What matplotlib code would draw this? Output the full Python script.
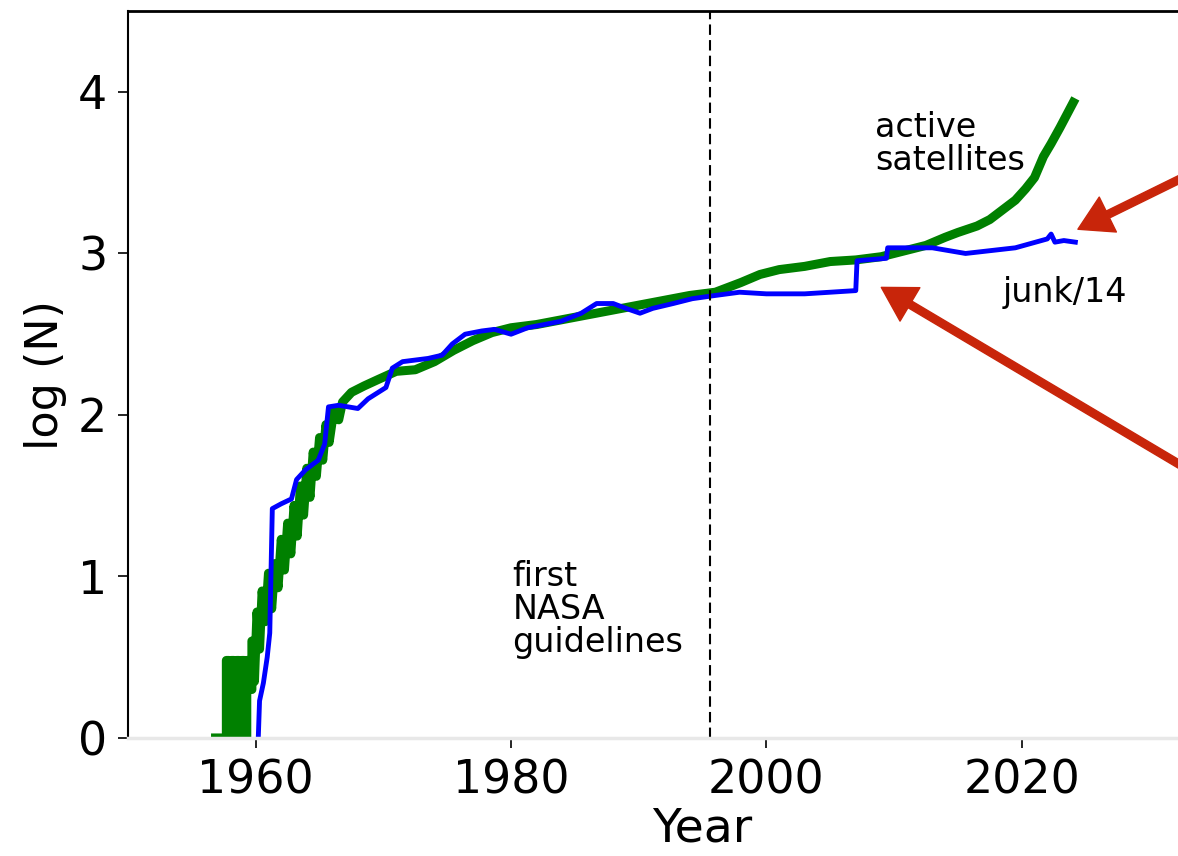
import matplotlib
matplotlib.use("Agg")
import matplotlib.pyplot as plt

# active satellites, log10 of count (early years flicker up and down)
act_year = [1956.5, 1957.7, 1957.7, 1957.9, 1957.9, 1958.1, 1958.1, 1958.3, 1958.3,
            1958.5, 1958.5, 1958.7, 1958.7, 1958.9, 1958.9, 1959.1, 1959.1, 1959.3,
            1959.3, 1959.5, 1959.5, 1959.7, 1959.7, 1959.9, 1959.9,
            1960.1, 1960.3, 1960.5, 1960.75, 1961.0, 1961.25, 1961.5, 1961.75, 1962.0,
            1962.25, 1962.5, 1962.75, 1963.0, 1963.25, 1963.5, 1963.75, 1964.0, 1964.25,
            1964.5, 1964.75, 1965.0, 1965.25, 1965.5, 1965.75, 1966.1, 1966.5, 1966.8,
            1967.5, 1968.5, 1969.6, 1971.0, 1972.5, 1974.0, 1975.5,
            1977.0, 1978.5, 1980.0, 1982.0, 1984.0, 1986.0, 1988.0, 1990.0, 1992.0,
            1994.0, 1996.0, 1997.0, 1998.0, 1999.5, 2001.0, 2003.0, 2005.0, 2007.0,
            2009.0, 2011.0, 2012.5, 2014.0, 2015.0, 2016.5, 2017.5, 2018.5, 2019.5,
            2020.3, 2021.0, 2021.7, 2022.3, 2023.0, 2023.6, 2024.2]
act_logn = [0.0, 0.0, 0.48, 0.48, 0.0, 0.0, 0.48, 0.48, 0.0,
            0.0, 0.48, 0.48, 0.3, 0.3, 0.48, 0.48, 0.0, 0.0,
            0.48, 0.48, 0.3, 0.3, 0.6, 0.6, 0.35,
            0.78, 0.55, 0.91, 0.72, 1.02, 0.8, 1.08, 0.93, 1.23,
            1.04, 1.33, 1.14, 1.44, 1.25, 1.56, 1.38, 1.67, 1.49,
            1.77, 1.62, 1.86, 1.72, 1.94, 1.83, 2.02, 1.97, 2.08,
            2.14, 2.18, 2.22, 2.27, 2.28, 2.33, 2.4,
            2.46, 2.51, 2.54, 2.56, 2.59, 2.62, 2.65, 2.68, 2.71,
            2.74, 2.76, 2.79, 2.82, 2.87, 2.9, 2.92, 2.95, 2.96,
            2.98, 3.02, 3.05, 3.1, 3.13, 3.17, 3.21, 3.27, 3.33,
            3.4, 3.47, 3.6, 3.68, 3.78, 3.87, 3.96]

# junk / 14, log10 of count
junk_year = [1960.2, 1960.3, 1960.6, 1960.9, 1961.1, 1961.3, 1962.0, 1962.8, 1963.2,
             1963.9, 1964.9, 1965.4, 1965.7, 1966.5, 1968.0, 1968.8, 1970.2, 1970.7,
             1971.5, 1973.5, 1974.6, 1975.4, 1976.4, 1977.7, 1978.7, 1980.0, 1981.3,
             1983.9, 1985.5, 1986.7, 1988.0, 1989.0, 1990.1, 1991.1, 1992.7, 1994.2,
             1996.0, 1997.9, 2000.0, 2003.0, 2007.0, 2007.1, 2009.4, 2009.5, 2013.0,
             2015.6, 2019.5, 2022.0, 2022.3, 2022.6, 2023.3, 2024.2]
junk_logn = [0.0, 0.23, 0.34, 0.5, 0.65, 1.42, 1.45, 1.48, 1.6,
             1.66, 1.72, 1.82, 2.05, 2.06, 2.04, 2.1, 2.17, 2.29,
             2.33, 2.35, 2.37, 2.44, 2.5, 2.52, 2.53, 2.5, 2.54,
             2.58, 2.63, 2.69, 2.69, 2.66, 2.63, 2.66, 2.69, 2.72,
             2.74, 2.76, 2.75, 2.75, 2.77, 2.955, 2.97, 3.035, 3.035,
             3.0, 3.035, 3.09, 3.12, 3.07, 3.08, 3.07]

nasa_year = 1995.6

# arrow tips and tails (tails lie off to the right of the crop)
arrow_tips = [(2024.4, 3.15), (2009.0, 2.79)]
arrow_tails = [(2045.0, 3.95), (2045.0, 1.10)]

fig = plt.figure(figsize=(11.78, 8.56), dpi=100)
ax = fig.add_axes([0.1087, 0.1379, 0.9754, 0.849])

ax.plot(act_year, act_logn, color="green", linewidth=6.5, solid_joinstyle="round",
        solid_capstyle="butt")
ax.plot(junk_year, junk_logn, color="blue", linewidth=3.5)
ax.axvline(nasa_year, color="black", linewidth=1.5, linestyle=(0, (5, 2.5)))

ax.text(2008.5, 3.88, "active\nsatellites", fontsize=24, ha="left", va="top",
        linespacing=1.0)
ax.text(2018.5, 2.86, "junk/14", fontsize=24, ha="left", va="top")
ax.text(1980.1, 1.1, "first\nNASA\nguidelines", fontsize=24, ha="left", va="top",
        linespacing=1.0)

for tip, tail in zip(arrow_tips, arrow_tails):
    ax.annotate("", xy=tip, xytext=tail, annotation_clip=False,
                arrowprops=dict(color="#c8250a", width=5.5, headwidth=28,
                                headlength=24, shrink=0))

ax.set_xlim(1950, 2040)
ax.set_ylim(0, 4.5)
ax.set_xticks([1960, 1980, 2000, 2020])
ax.set_yticks([0, 1, 2, 3, 4])
ax.tick_params(labelsize=33, length=7, width=1.2, pad=8)
ax.set_xlabel("Year", fontsize=34, labelpad=2)
ax.set_ylabel("log (N)", fontsize=32, labelpad=8)
ax.spines["bottom"].set_color("#e8e8e8")
ax.spines["bottom"].set_linewidth(2.5)
ax.spines["left"].set_linewidth(1.5)
ax.spines["top"].set_linewidth(2)

fig.savefig("out.png", dpi=100)
